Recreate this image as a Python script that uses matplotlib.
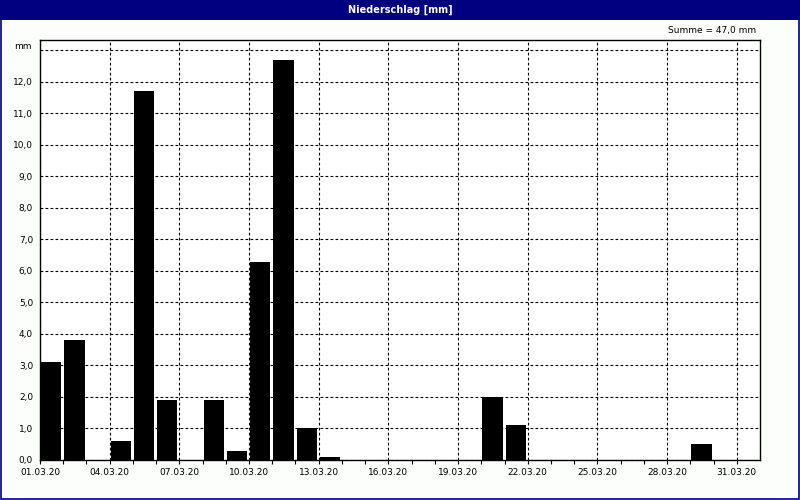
import numpy as np
import matplotlib.pyplot as plt
from matplotlib.patches import Rectangle

# Tageswerte Niederschlag März 2020 (mm)
days = np.arange(1, 32)
values = [3.1, 3.8, 0.0, 0.6, 11.7, 1.9, 0.0, 1.9, 0.3, 6.3,
          12.7, 1.0, 0.1, 0.0, 0.0, 0.0, 0.0, 0.0, 0.0, 2.0,
          1.1, 0.0, 0.0, 0.0, 0.0, 0.0, 0.0, 0.0, 0.5, 0.0, 0.0]
tick_days = [1, 4, 7, 10, 13, 16, 19, 22, 25, 28, 31]
tick_labels = ['01.03.20', '04.03.20', '07.03.20', '10.03.20', '13.03.20', '16.03.20',
               '19.03.20', '22.03.20', '25.03.20', '28.03.20', '31.03.20']
y_ticks = list(range(0, 14))
y_labels = ['%d,0' % v for v in range(0, 13)] + ['']

navy = '#000080'
bg = '#fcfefc'

fig = plt.figure(figsize=(8, 5), dpi=100, facecolor=bg)

# Titelleiste und Rahmen
fig.patches.append(Rectangle((0, 0.96), 1, 0.04, transform=fig.transFigure,
                             facecolor=navy, edgecolor='none', zorder=0))
fig.patches.append(Rectangle((0.001, 0.002), 0.998, 0.97, transform=fig.transFigure,
                             facecolor='none', edgecolor=navy, linewidth=1.2, zorder=0))
fig.text(0.5, 0.98, 'Niederschlag [mm]', color='white', fontsize=7, fontweight='bold',
         ha='center', va='center')

ax = fig.add_axes([0.05, 0.08, 0.90, 0.84])
ax.set_facecolor('white')

ax.bar(days + 0.05, values, width=0.87, align='edge', color='black', linewidth=0, zorder=3)

ax.set_xlim(1, 32)
ax.set_ylim(0, 13.33)

ax.set_xticks(tick_days)
ax.set_xticklabels(tick_labels, fontsize=6.5)
ax.set_xticks(days, minor=True)
ax.set_yticks(y_ticks)
ax.set_yticklabels(y_labels, fontsize=6.5)

ax.tick_params(axis='x', which='major', length=3, width=0.8, pad=3)
ax.tick_params(axis='x', which='minor', length=3, width=0.8)
ax.tick_params(axis='y', length=0, pad=5)

ax.grid(True, which='major', color='black', linestyle=(0, (2.5, 2)), linewidth=0.8, zorder=1)
for s in ax.spines.values():
    s.set_color('black')
    s.set_linewidth(1)

# Einheit oben links, Summe oben rechts
ax.text(-0.012, 0.985, 'mm', transform=ax.transAxes, ha='right', va='center', fontsize=6.5)
summe = ('Summe = %.1f mm' % sum(values)).replace('.', ',')
ax.text(0.995, 1.022, summe, transform=ax.transAxes, ha='right', va='center', fontsize=6.5)

fig.savefig('out.png', dpi=100, facecolor=bg)
